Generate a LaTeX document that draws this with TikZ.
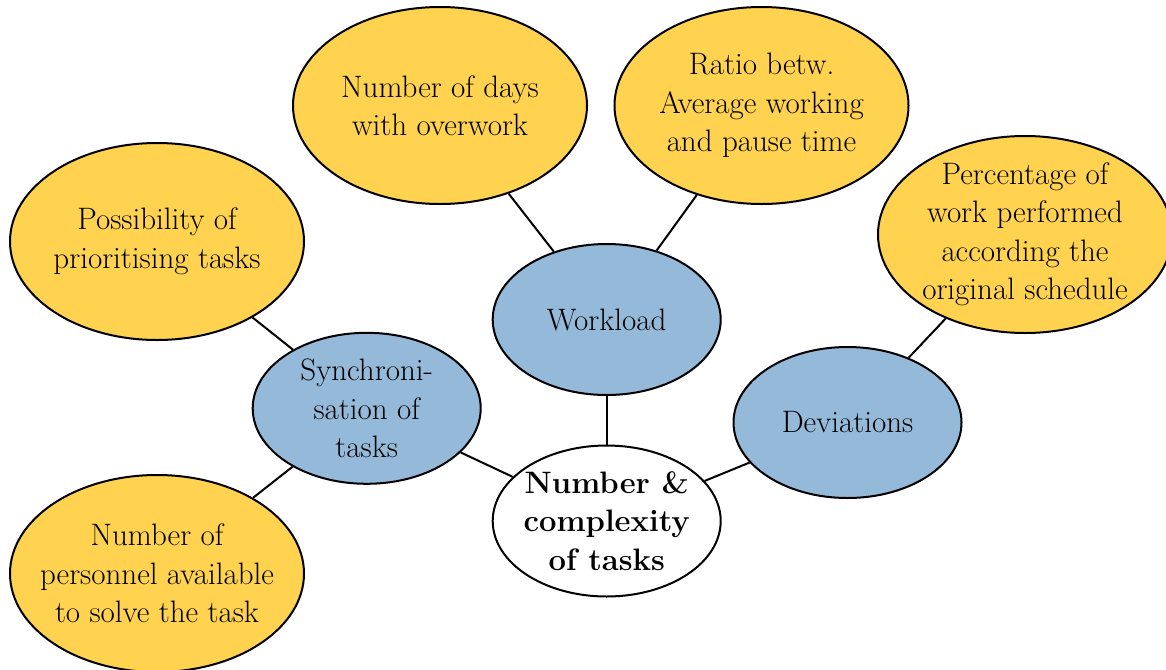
\documentclass[tikz,border=0pt]{standalone}
\usetikzlibrary{shapes.geometric}
\definecolor{gold}{RGB}{255,210,79}
\definecolor{steel}{RGB}{149,185,217}
\begin{document}
\begin{tikzpicture}[x=1pt,y=-1pt,
  bubble/.style={ellipse, draw=black, line width=2pt, inner sep=0pt},
  bigbub/.style={bubble, fill=gold, minimum width=294pt, minimum height=197pt},
  smallbub/.style={bubble, fill=steel, minimum width=228pt, minimum height=151pt},
  hub/.style={bubble, fill=white, minimum width=228pt, minimum height=151pt},
  txt/.style={align=center, inner sep=0pt, font=\fontsize{31}{38.5}\selectfont},
  link/.style={draw=black, line width=2pt}]
\useasboundingbox (0,0) rectangle (1166,669);

% outer factors
\node[bigbub, label={[txt]center:{Number of days\\with overwork}}] (days) at (440,105.5) {};
\node[bigbub, label={[txt]center:{Ratio betw.\\Average working\\and pause time}}] (ratio) at (761.5,105.5) {};
\node[bigbub, label={[txt]center:{Percentage of\\work performed\\according the\\original schedule}}] (perc) at (1025,234.5) {};
\node[bigbub, label={[txt]center:{Possibility of\\prioritising tasks}}] (prio) at (157,241.5) {};
\node[bigbub, label={[txt]center:{Number of\\personnel available\\to solve the task}}] (pers) at (157,573.5) {};

% intermediate factors
\node[smallbub, label={[txt]center:{Workload}}] (work) at (606.7,319.5) {};
\node[smallbub, label={[txt]center:{Synchroni-\\sation of\\tasks}}] (sync) at (366.7,408.3) {};
\node[smallbub, label={[txt]center:{Deviations}}] (dev) at (847.5,422.5) {};

% central criterion
\node[hub, label={[txt,font=\fontsize{31}{38.5}\selectfont\bfseries]center:{Number \&\\complexity\\of tasks}}] (num) at (606.7,521) {};

% connections
\draw[link] (days) -- (work);
\draw[link] (ratio) -- (work);
\draw[link] (perc) -- (dev);
\draw[link] (prio) -- (sync);
\draw[link] (pers) -- (sync);
\draw[link] (work) -- (num);
\draw[link] (sync) -- (num);
\draw[link] (dev) -- (num);
\end{tikzpicture}
\end{document}
